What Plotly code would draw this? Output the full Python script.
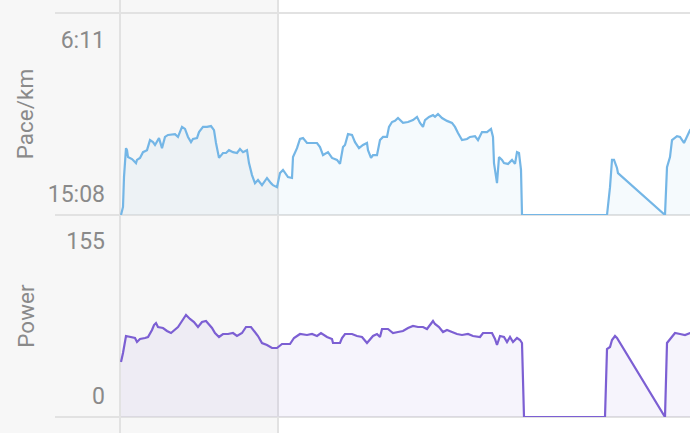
import plotly.graph_objects as go

# ---- data (time in seconds) ----
pace_t = [2, 6, 8, 12, 14, 16, 24, 32, 34, 40, 46, 54, 60, 66, 70, 78, 84, 90, 96, 110,
          116, 124, 130, 136, 142, 146, 154, 158, 166, 174, 182, 188, 192, 198, 206, 212,
          218, 226, 234, 240, 246, 254, 258, 264, 270, 276, 284, 294, 302, 306, 314, 320,
          326, 336, 344, 346, 354, 360, 366, 374, 384, 394, 400, 406, 416, 424, 434, 440,
          446, 450, 456, 464, 470, 478, 486, 494, 496, 502, 506, 514, 520, 526, 534, 538,
          544, 550, 556, 566, 576, 586, 594, 600, 606, 610, 618, 626, 630, 636, 644, 654,
          664, 670, 676, 684, 694, 700, 710, 716, 724, 734, 742, 746, 748, 754, 758, 764,
          768, 776, 784, 790, 794, 798, 802, 804, 974, 980, 984, 988, 994, 996, 1090, 1094,
          1100, 1104, 1114, 1120, 1128, 1134, 1140, 1150]
pace_s = [908, 880, 776, 675, 682, 706, 713, 727, 716, 709, 689, 682, 647, 654, 664, 640,
          675, 636, 629, 626, 636, 601, 608, 636, 654, 643, 640, 619, 601, 601, 598, 612,
          657, 709, 692, 692, 682, 689, 692, 678, 689, 682, 727, 769, 797, 786, 804, 779,
          797, 804, 811, 762, 751, 776, 779, 706, 675, 643, 640, 657, 657, 657, 671, 699,
          689, 709, 716, 730, 671, 664, 626, 629, 654, 675, 664, 657, 682, 709, 699, 699,
          647, 636, 636, 601, 584, 580, 570, 587, 584, 577, 566, 587, 601, 577, 566, 560,
          566, 556, 570, 580, 587, 601, 622, 647, 643, 636, 633, 647, 619, 619, 608, 636,
          727, 797, 706, 716, 727, 730, 716, 730, 689, 692, 751, 908, 908, 811, 716, 716,
          744, 762, 908, 741, 706, 647, 633, 636, 657, 636, 612, 594]

power_t = [2, 6, 12, 20, 30, 34, 40, 50, 56, 64, 68, 72, 76, 86, 94, 102, 108, 116, 124,
           132, 140, 148, 156, 164, 172, 176, 184, 190, 198, 206, 216, 226, 234, 244, 252,
           262, 268, 276, 284, 294, 304, 314, 324, 340, 348, 354, 360, 374, 384, 394, 402,
           414, 424, 426, 440, 444, 450, 464, 474, 484, 494, 506, 514, 520, 524, 536, 546,
           556, 566, 576, 586, 596, 606, 614, 620, 626, 630, 638, 646, 654, 664, 674, 684,
           696, 706, 720, 726, 744, 750, 754, 760, 768, 774, 780, 786, 794, 800, 804, 808,
           970, 974, 980, 984, 990, 994, 1090, 1094, 1102, 1110, 1120, 1130, 1140, 1150]
power_w = [55, 64, 81, 80, 79, 75, 78, 79, 80, 87, 92, 94, 90, 89, 86, 84, 87, 90, 96,
           102, 98, 95, 90, 95, 96, 94, 89, 84, 80, 83, 83, 84, 81, 84, 90, 90, 86, 81, 74,
           72, 69, 69, 73, 73, 79, 81, 83, 82, 83, 81, 84, 80, 78, 74, 74, 79, 83, 83, 81,
           80, 74, 81, 83, 80, 88, 88, 84, 85, 86, 89, 91, 90, 90, 88, 92, 96, 93, 90, 85,
           87, 85, 83, 82, 83, 81, 80, 84, 84, 78, 72, 81, 80, 75, 80, 75, 79, 77, 74, 0,
           0, 68, 70, 77, 81, 79, 0, 74, 79, 84, 83, 82, 84, 84]

pace_ticks = [371, 908]
pace_labels = ["6:11", "15:08"]
power_ticks = [0, 155]
power_labels = ["0", "155"]
lap_marker_t = 316
x_range = [0, 1140]
pace_range = [908, 204]
power_range = [0, 202]

PACE_COLOR = "#74b6e6"
POWER_COLOR = "#7c5fd3"
GRID = "#e2e2e2"
TEXT = "#8a8a8a"

fig = go.Figure()

# baseline for pace fill (slowest displayed pace)
fig.add_trace(go.Scatter(x=[pace_t[0], pace_t[-1]], y=[pace_range[0], pace_range[0]],
                         mode="lines", line=dict(width=0, color="rgba(0,0,0,0)"),
                         hoverinfo="skip", showlegend=False, xaxis="x", yaxis="y"))
fig.add_trace(go.Scatter(x=pace_t, y=pace_s, mode="lines", fill="tonexty",
                         line=dict(color=PACE_COLOR, width=2.2),
                         fillcolor="rgba(116,182,230,0.07)",
                         showlegend=False, xaxis="x", yaxis="y"))
fig.add_trace(go.Scatter(x=power_t, y=power_w, mode="lines", fill="tozeroy",
                         line=dict(color=POWER_COLOR, width=2.2),
                         fillcolor="rgba(124,95,211,0.07)",
                         showlegend=False, xaxis="x", yaxis="y2"))

x_lap = (lap_marker_t - x_range[0]) / (x_range[1] - x_range[0])
shapes = [
    dict(type="rect", xref="paper", yref="paper", x0=-0.3, x1=x_lap, y0=-0.1, y1=1.1,
         fillcolor="#f7f7f7", line=dict(width=0), layer="below"),
]
for xv in [0, x_lap]:
    shapes.append(dict(type="line", xref="paper", yref="paper", x0=xv, x1=xv, y0=-0.1, y1=1.1,
                       line=dict(color=GRID, width=2), layer="below"))
for yv in [0, 0.5, 1]:
    shapes.append(dict(type="line", xref="paper", yref="paper", x0=-0.114, x1=1, y0=yv, y1=yv,
                       line=dict(color=GRID, width=2), layer="below"))

axis_font = dict(family="Roboto", size=23, color=TEXT)
title_font = dict(family="Roboto", size=22.5, color=TEXT)
fig.update_layout(
    width=690, height=433,
    margin=dict(l=120, r=0, t=13, b=16),
    paper_bgcolor="white", plot_bgcolor="rgba(0,0,0,0)",
    showlegend=False,
    shapes=shapes,
    font=axis_font,
    hovermode=False,
    xaxis=dict(range=x_range, visible=False, anchor="y2"),
    yaxis=dict(domain=[0.5, 1], range=pace_range, tickvals=pace_ticks, ticktext=pace_labels,
               showgrid=False, zeroline=False, showline=False, ticks="",
               ticklabelshift=21, ticklabelstandoff=14,
               title=dict(text="Pace/km", font=title_font, standoff=7), tickfont=axis_font),
    yaxis2=dict(domain=[0, 0.5], range=power_range, tickvals=power_ticks, ticktext=power_labels,
                showgrid=False, zeroline=False, showline=False, ticks="",
                ticklabelshift=-21, ticklabelstandoff=14,
                title=dict(text="Power", font=title_font, standoff=25), tickfont=axis_font),
)

fig.write_html("out.html", config={"displayModeBar": False},
               post_script="document.body.style.margin='0';document.body.style.padding='0';")
